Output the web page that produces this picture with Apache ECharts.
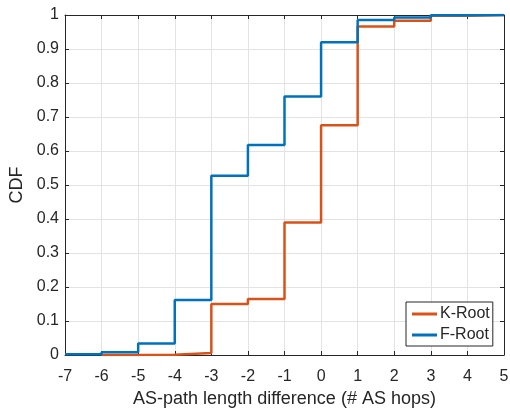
<!DOCTYPE html>
<html><head><meta charset="utf-8">
<script src="https://cdn.jsdelivr.net/npm/echarts@6/dist/echarts.min.js"></script>
<style>html,body{margin:0;padding:0;background:#fff}#c{width:510px;height:411px}</style>
</head><body><div id="c"></div>
<script>
const kRootX = [-6, -5, -4, -3, -2, -1, 0, 1, 2, 3, 4, 5];
const kRootY = [0.0, 0.001, 0.006, 0.150, 0.165, 0.390, 0.676, 0.966, 0.983, 0.998, 1.0, 1.0];
const fRootX = [-7, -6, -5, -4, -3, -2, -1, 0, 1, 2, 3, 4, 5];
const fRootY = [0.002, 0.008, 0.034, 0.162, 0.527, 0.618, 0.760, 0.920, 0.985, 0.993, 0.999, 1.0, 1.0];
const xTicks = [-7, 5, 1];
const yTicks = [0, 1, 0.1];

const font = 'Liberation Sans, Arial, sans-serif';
const txt = '#262626';
const chart = echarts.init(document.getElementById('c'));
const pair = (xs, ys) => xs.map((x, i) => [x, ys[i]]);
const axisLineStyle = {show: true, onZero: false, lineStyle: {color: '#262626', width: 1}};
const gridLine = {show: true, lineStyle: {color: '#e3e3e3', width: 1}};
const tick = {show: true, inside: true, length: 4, lineStyle: {color: '#262626'}};
chart.setOption({
  animation: false,
  grid: {left: 65, right: 6, top: 15, bottom: 56, containLabel: false, outerBoundsMode: 'none'},
  legend: {
    left: 406, top: 302, orient: 'vertical',
    backgroundColor: '#fff', borderColor: '#262626', borderWidth: 1,
    padding: [4, 3, 3, 6], itemGap: 5, itemWidth: 25, itemHeight: 3,
    icon: 'rect',
    textStyle: {fontFamily: font, fontSize: 16, color: txt, padding: [0, 0, 0, -2]},
    data: ['K-Root', 'F-Root']
  },
  xAxis: [{
    type: 'value', min: xTicks[0], max: xTicks[1], interval: xTicks[2],
    name: 'AS-path length difference (# AS hops)', nameLocation: 'middle', nameGap: 35,
    nameTextStyle: {fontFamily: font, fontSize: 18, color: txt},
    axisLine: axisLineStyle, axisTick: tick,
    axisLabel: {fontFamily: font, fontSize: 16, color: txt, margin: 14},
    splitLine: gridLine
  }, {
    type: 'value', position: 'top', min: xTicks[0], max: xTicks[1], interval: xTicks[2],
    axisLine: axisLineStyle, axisTick: tick,
    axisLabel: {show: false}, splitLine: {show: false}
  }],
  yAxis: [{
    type: 'value', min: yTicks[0], max: yTicks[1], interval: yTicks[2],
    name: 'CDF', nameLocation: 'middle', nameGap: 32, nameRotate: 90,
    nameTextStyle: {fontFamily: font, fontSize: 18, color: txt},
    axisLine: axisLineStyle, axisTick: tick,
    axisLabel: {fontFamily: font, fontSize: 16, color: txt, margin: 6,
      formatter: v => String(Math.round(v * 10) / 10)},
    splitLine: gridLine
  }, {
    type: 'value', position: 'right', min: yTicks[0], max: yTicks[1], interval: yTicks[2],
    axisLine: axisLineStyle, axisTick: tick,
    axisLabel: {show: false}, splitLine: {show: false}
  }],
  series: [{
    name: 'K-Root', type: 'line', step: 'end', showSymbol: false, symbol: 'none',
    data: pair(kRootX, kRootY),
    itemStyle: {color: '#D95319'}, lineStyle: {color: '#D95319', width: 2.5}
  }, {
    name: 'F-Root', type: 'line', step: 'end', showSymbol: false, symbol: 'none',
    data: pair(fRootX, fRootY),
    itemStyle: {color: '#0072BD'}, lineStyle: {color: '#0072BD', width: 2.5}
  }]
});
</script></body></html>
